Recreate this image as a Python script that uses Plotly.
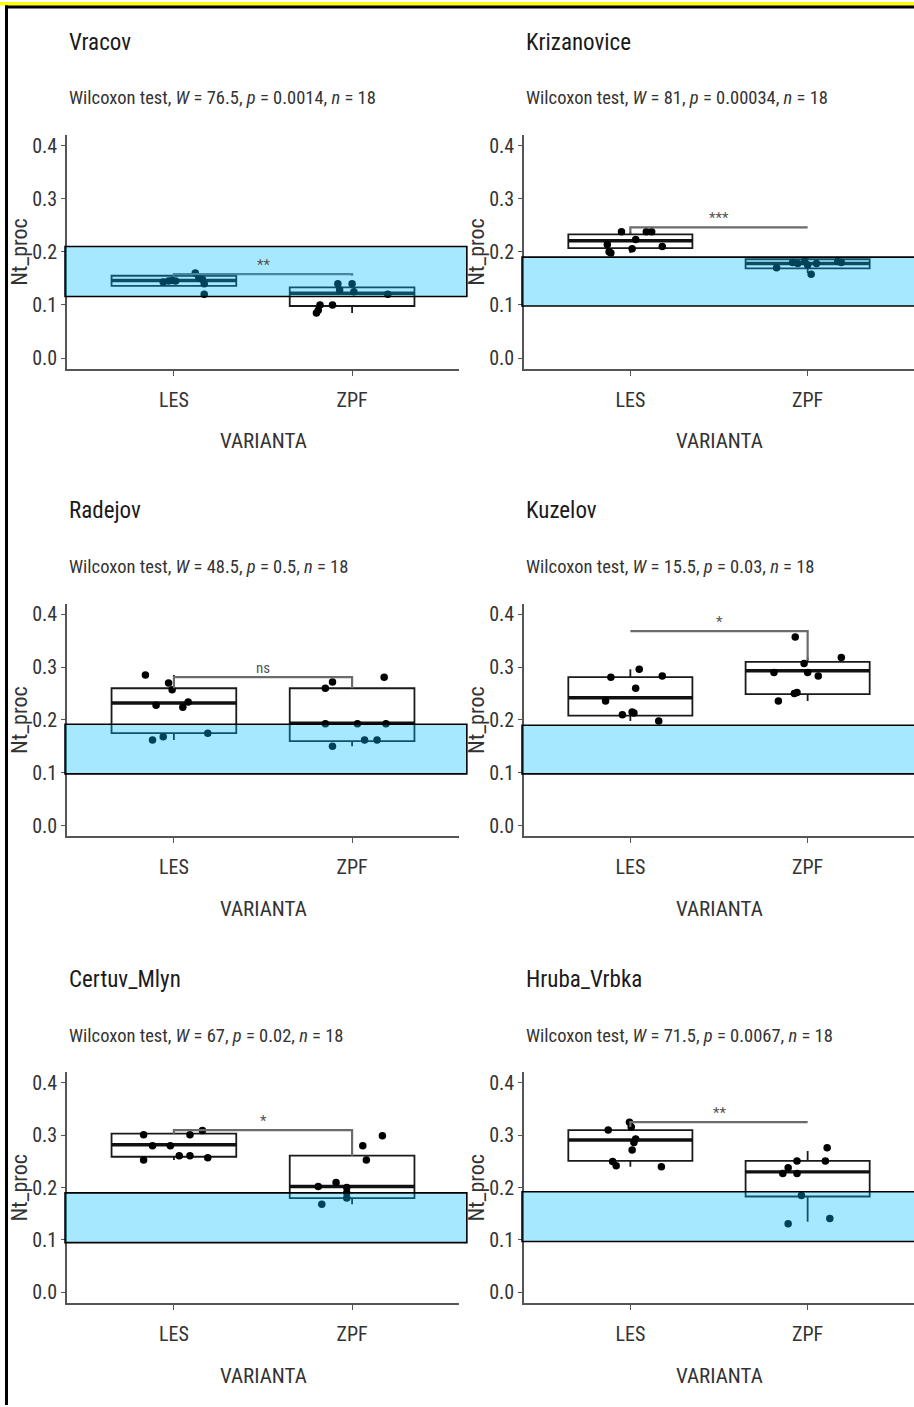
import plotly.graph_objects as go

# ---------------- data ----------------
sites = ["Vracov", "Krizanovice", "Radejov", "Kuzelov", "Certuv_Mlyn", "Hruba_Vrbka"]
groups = ["LES", "ZPF"]
w_stat = ["76.5", "81", "48.5", "15.5", "67", "71.5"]
p_val = ["0.0014", "0.00034", "0.5", "0.03", "0.02", "0.0067"]
n_obs = [18, 18, 18, 18, 18, 18]
signif = ["**", "***", "ns", "*", "*", "**"]

y_ticks = [0.0, 0.1, 0.2, 0.3, 0.4]

# reference band (light blue rectangle)
band_lo = [0.116, 0.098, 0.098, 0.098, 0.095, 0.097]
band_hi = [0.210, 0.190, 0.192, 0.190, 0.190, 0.192]

# box statistics  LES
les_q1 = [0.136, 0.207, 0.175, 0.208, 0.259, 0.251]
les_med = [0.146, 0.221, 0.232, 0.242, 0.282, 0.291]
les_q3 = [0.155, 0.233, 0.260, 0.281, 0.303, 0.310]
les_lo = [0.135, 0.198, 0.162, 0.198, 0.253, 0.240]
les_hi = [0.160, 0.238, 0.285, 0.296, 0.309, 0.325]
# box statistics  ZPF
zpf_q1 = [0.098, 0.169, 0.160, 0.249, 0.180, 0.183]
zpf_med = [0.122, 0.178, 0.194, 0.293, 0.202, 0.230]
zpf_q3 = [0.133, 0.186, 0.260, 0.310, 0.261, 0.251]
zpf_lo = [0.085, 0.160, 0.150, 0.236, 0.168, 0.135]
zpf_hi = [0.140, 0.190, 0.281, 0.318, 0.299, 0.270]

# individual observations and their horizontal jitter
les_vals = [
    [0.143, 0.145, 0.146, 0.145, 0.160, 0.152, 0.148, 0.140, 0.120],
    [0.214, 0.200, 0.198, 0.238, 0.206, 0.223, 0.238, 0.238, 0.210],
    [0.285, 0.162, 0.228, 0.168, 0.270, 0.257, 0.224, 0.234, 0.175],
    [0.281, 0.236, 0.210, 0.215, 0.213, 0.260, 0.296, 0.198, 0.283],
    [0.301, 0.253, 0.280, 0.280, 0.261, 0.301, 0.261, 0.309, 0.257],
    [0.310, 0.250, 0.242, 0.325, 0.316, 0.272, 0.293, 0.286, 0.240],
]
les_jit = [
    [-0.06, -0.03, -0.01, 0.01, 0.12, 0.14, 0.16, 0.17, 0.17],
    [-0.13, -0.12, -0.11, -0.05, 0.01, 0.03, 0.09, 0.12, 0.18],
    [-0.16, -0.12, -0.10, -0.06, -0.03, -0.01, 0.05, 0.08, 0.19],
    [-0.11, -0.14, -0.045, 0.01, 0.02, 0.03, 0.05, 0.16, 0.18],
    [-0.17, -0.17, -0.12, -0.02, 0.03, 0.09, 0.09, 0.16, 0.19],
    [-0.125, -0.10, -0.08, -0.005, 0.005, 0.01, 0.03, 0.02, 0.175],
]
zpf_vals = [
    [0.085, 0.090, 0.100, 0.100, 0.140, 0.128, 0.140, 0.125, 0.120],
    [0.170, 0.180, 0.178, 0.182, 0.175, 0.158, 0.178, 0.182, 0.180],
    [0.260, 0.272, 0.193, 0.150, 0.193, 0.162, 0.162, 0.281, 0.193],
    [0.290, 0.236, 0.250, 0.252, 0.357, 0.307, 0.290, 0.283, 0.318],
    [0.202, 0.168, 0.210, 0.200, 0.180, 0.280, 0.253, 0.299, 0.190],
    [0.227, 0.238, 0.131, 0.251, 0.227, 0.185, 0.251, 0.276, 0.141],
]
zpf_jit = [
    [-0.20, -0.19, -0.18, -0.11, -0.08, -0.07, 0.00, 0.01, 0.20],
    [-0.175, -0.085, -0.056, -0.017, 0.00, 0.02, 0.05, 0.17, 0.19],
    [-0.15, -0.11, -0.15, -0.11, 0.03, 0.07, 0.14, 0.18, 0.19],
    [-0.19, -0.165, -0.075, -0.06, -0.07, -0.02, 0.00, 0.06, 0.19],
    [-0.19, -0.17, -0.09, -0.03, -0.03, 0.06, 0.08, 0.17, -0.03],
    [-0.14, -0.11, -0.11, -0.06, -0.06, -0.035, 0.10, 0.11, 0.125],
]

# significance brackets: bar height and tip ends at LES / ZPF
br_y = [0.158, 0.246, 0.281, 0.368, 0.310, 0.325]
br_tip_les = [0.155, 0.235, 0.260, 0.368, 0.303, 0.316]
br_tip_zpf = [0.155, 0.246, 0.260, 0.313, 0.261, 0.325]

# ---------------- layout constants ----------------
W_PX, H_PX = 914, 1407
col_px = [(67, 459), (524, 914)]
row_px = [(133.4, 367.7), (603.4, 836.6), (1073.5, 1304.5)]
BOX_W = 0.7
FONT = "Liberation Sans Narrow, Arial Narrow, Roboto Condensed, DejaVu Sans Condensed, Liberation Sans, Arial, sans-serif"
TXT = "#333333"
AXC = "#555555"

fig = go.Figure()
shapes = []
annotations = []
layout_axes = {}

for i, site in enumerate(sites):
    r, c = divmod(i, 2)
    k = "" if i == 0 else str(i + 1)
    xa, ya = "x" + k, "y" + k
    x0p, x1p = col_px[c]
    t_px, b_px = row_px[r]

    layout_axes["xaxis" + k] = dict(
        domain=[x0p / W_PX, x1p / W_PX], anchor=ya, range=[0.4, 2.6],
        tickvals=[1, 2], ticktext=groups, showline=True, linecolor=AXC, linewidth=2.2,
        ticks="outside", ticklen=5, tickcolor=AXC, tickwidth=1.2, showgrid=False,
        zeroline=False, tickfont=dict(size=20, color=TXT), ticklabelstandoff=7,
    )
    layout_axes["yaxis" + k] = dict(
        domain=[1 - b_px / H_PX, 1 - t_px / H_PX], anchor=xa, range=[-0.02, 0.42],
        tickvals=y_ticks, ticktext=[f"{v:.1f}" for v in y_ticks], showline=True,
        linecolor=AXC, linewidth=1.5, ticks="outside", ticklen=4, tickcolor=AXC,
        tickwidth=1.2, showgrid=False, zeroline=False, tickfont=dict(size=20, color=TXT),
    )

    stats = [
        (les_q1[i], les_med[i], les_q3[i], les_lo[i], les_hi[i], les_vals[i], les_jit[i]),
        (zpf_q1[i], zpf_med[i], zpf_q3[i], zpf_lo[i], zpf_hi[i], zpf_vals[i], zpf_jit[i]),
    ]
    for g, (q1, md, q3, lo, hi, vals, jit) in enumerate(stats):
        pos = g + 1
        fig.add_trace(go.Box(
            x=[pos], q1=[q1], median=[md], q3=[q3], lowerfence=[lo], upperfence=[hi],
            width=BOX_W, fillcolor="white", line=dict(color="#1a1a1a", width=1.8),
            whiskerwidth=0, boxpoints=False, hoverinfo="skip", showlegend=False,
            xaxis=xa, yaxis=ya,
        ))
        fig.add_trace(go.Scatter(
            x=[pos - BOX_W / 2, pos + BOX_W / 2], y=[md, md], mode="lines",
            line=dict(color="#111111", width=3.4), hoverinfo="skip", showlegend=False,
            xaxis=xa, yaxis=ya,
        ))
        fig.add_trace(go.Scatter(
            x=[pos + j for j in jit], y=vals, mode="markers",
            marker=dict(color="black", size=7.5), hoverinfo="skip", showlegend=False,
            xaxis=xa, yaxis=ya,
        ))

    # significance bracket
    fig.add_trace(go.Scatter(
        x=[1, 1, 2, 2], y=[br_tip_les[i], br_y[i], br_y[i], br_tip_zpf[i]], mode="lines",
        line=dict(color="#6b6b6b", width=2.2), hoverinfo="skip", showlegend=False,
        xaxis=xa, yaxis=ya,
    ))
    annotations.append(dict(
        x=1.5, y=br_y[i], xref=xa, yref=ya, text=signif[i], showarrow=False,
        yanchor="bottom", font=dict(family=FONT, size=15, color="#555555"), yshift=-2,
    ))

    # reference band drawn over the data
    shapes.append(dict(
        type="rect", xref=xa + " domain", yref=ya, x0=-0.005, x1=1.02 if c == 0 else 1.01,
        y0=band_lo[i], y1=band_hi[i], fillcolor="rgba(0,191,255,0.35)",
        line=dict(color="black", width=1.6), layer="above",
    ))

    # titles and axis titles
    annotations.append(dict(
        x=0, y=1 - (t_px - 93) / H_PX, xref=xa + " domain", yref="paper", text=site,
        showarrow=False, xanchor="left", yanchor="middle",
        font=dict(family=FONT, size=23, color="#1a1a1a"),
    ))
    annotations.append(dict(
        x=0, y=1 - (t_px - 37) / H_PX, xref=xa + " domain", yref="paper",
        text=f"Wilcoxon test, <i>W</i> = {w_stat[i]}, <i>p</i> = {p_val[i]}, <i>n</i> = {n_obs[i]}",
        showarrow=False, xanchor="left", yanchor="middle",
        font=dict(family=FONT, size=18.5, color=TXT),
    ))
    annotations.append(dict(
        x=0.5, y=1 - (b_px + 73) / H_PX, xref=xa + " domain", yref="paper", text="VARIANTA",
        showarrow=False, xanchor="center", yanchor="middle",
        font=dict(family=FONT, size=21, color=TXT),
    ))
    annotations.append(dict(
        x=0, y=0.5, xref=xa + " domain", yref=ya + " domain", text="Nt_proc",
        showarrow=False, textangle=-90, xanchor="center", yanchor="middle", xshift=-47,
        font=dict(family=FONT, size=22, color=TXT),
    ))

# decorative frame (yellow strip and black border of the screenshot)
shapes += [
    dict(type="rect", xref="paper", yref="paper", x0=0, x1=1, y0=1 - 3.5 / H_PX, y1=1,
         fillcolor="#ffff00", line=dict(width=0), layer="above"),
    dict(type="rect", xref="paper", yref="paper", x0=5 / W_PX, x1=1, y0=1 - 6.5 / H_PX,
         y1=1 - 3.5 / H_PX, fillcolor="black", line=dict(width=0), layer="above"),
    dict(type="rect", xref="paper", yref="paper", x0=5 / W_PX, x1=8 / W_PX, y0=0,
         y1=1 - 3.5 / H_PX, fillcolor="black", line=dict(width=0), layer="above"),
]

fig.update_layout(
    width=W_PX, height=H_PX, margin=dict(l=0, r=0, t=0, b=0),
    paper_bgcolor="white", plot_bgcolor="white", showlegend=False,
    font=dict(family=FONT, color=TXT), shapes=shapes, annotations=annotations,
    boxmode="overlay", **layout_axes,
)

fig.write_html("out.html")
